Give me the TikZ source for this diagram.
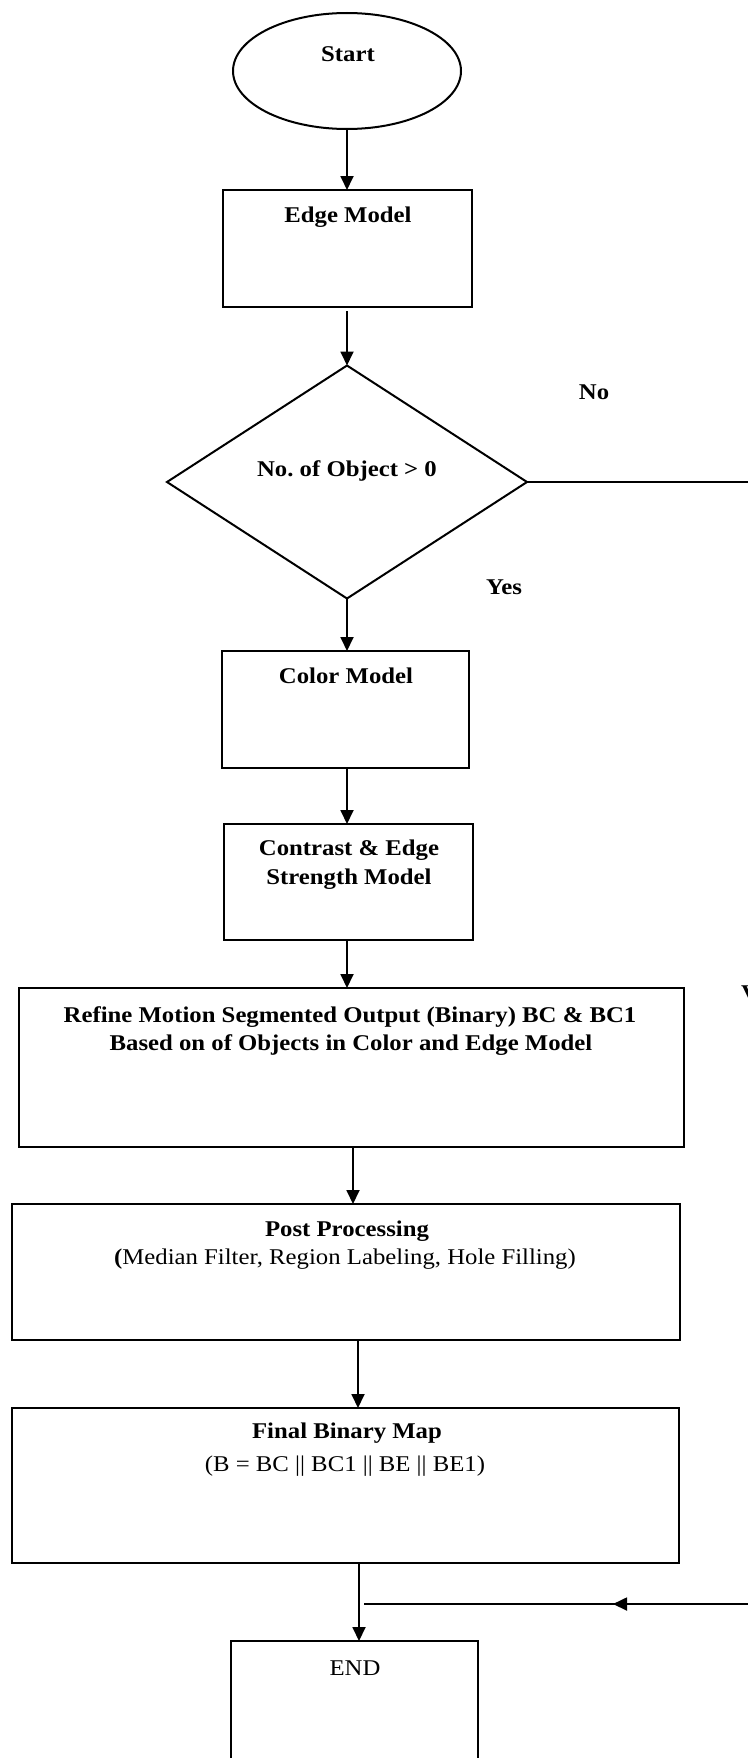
\documentclass[tikz,border=0pt]{standalone}
\usepackage{fontspec}
\setmainfont{Liberation Serif}[FakeStretch=1.1]
\usetikzlibrary{arrows.meta,shapes.geometric,decorations.markings}
\frenchspacing

\tikzset{
  shapeline/.style={draw=black, line width=2pt, inner sep=0pt, outer sep=0pt},
  procbox/.style={shapeline, rectangle},
  txt/.style={inner sep=0pt, anchor=base, font=\fontsize{22.5}{28}\selectfont},
  btxt/.style={txt, font=\fontsize{22.5}{28}\selectfont\bfseries},
  flow/.style={line width=1.8pt, -{Triangle[length=14pt,width=13pt]}},
  plain/.style={line width=1.8pt},
}

\begin{document}
\begin{tikzpicture}[x=1pt, y=-1pt]
  \useasboundingbox (0,0) rectangle (747,1758);

  % terminal and process shapes
  \node[shapeline, ellipse, minimum width=228pt, minimum height=116pt] (start) at (347,71) {};
  \node[procbox, minimum width=249pt, minimum height=117pt] (edge) at (347,248.5) {};
  \node[shapeline, diamond, minimum width=360pt, minimum height=233pt, aspect=1.545] (dec) at (347,482) {};
  \node[procbox, minimum width=247pt, minimum height=117pt] (color) at (345.5,709.5) {};
  \node[procbox, minimum width=249pt, minimum height=116pt] (contrast) at (348.5,882) {};
  \node[procbox, minimum width=665pt, minimum height=159pt] (refine) at (351.5,1067.5) {};
  \node[procbox, minimum width=668pt, minimum height=136pt] (post) at (346,1272) {};
  \node[procbox, minimum width=667pt, minimum height=155pt] (final) at (345.5,1485.5) {};
  \node[procbox, minimum width=247pt, minimum height=118pt] (end) at (354.5,1700) {};

  % labels
  \node[btxt] (startt) at (348,62) {Start};
  \node[btxt] (edget) at (348,222) {Edge Model};
  \node[btxt] (dect) at (347,476) {No.\ of Object > 0};
  \node[btxt] (no) at (594,399) {No};
  \node[btxt] (yes) at (504,594) {Yes};
  \node[btxt] (colort) at (346,683) {Color Model};
  \node[btxt] (contrastt1) at (349,855) {Contrast \& Edge};
  \node[btxt] (contrastt2) at (349,884) {Strength Model};
  \node[btxt] (refinet1) at (350,1022) {Refine Motion Segmented Output (Binary) BC \& BC1};
  \node[btxt] (refinet2) at (351,1050) {Based on of Objects in Color and Edge Model};
  \node[btxt] (postt1) at (347,1236) {Post Processing};
  \node[txt] (postt2) at (345,1264) {\textbf{(}Median Filter, Region Labeling, Hole Filling)};
  \node[btxt] (finalt1) at (347,1438) {Final Binary Map};
  \node[txt] (finalt2) at (345,1471) {(B = BC || BC1 || BE || BE1)};
  \node[txt] (endt) at (355,1675) {END};
  \node[btxt, anchor=base west] (edgemark) at (741,1000) {V};

  % free ends of the loop-back branch at the right margin
  \coordinate (noout) at (752,482);
  \coordinate (backin) at (752,1604);
  \coordinate (backend) at (364,1604);

  % main flow
  \draw[flow] (start.south) -- (edge.north);
  \draw[flow, shorten <=4pt] (edge.south) -- (dec.north);
  \draw[flow] (dec.south) -- ([xshift=1.5pt]color.north);
  \draw[flow] ([xshift=1.5pt]color.south) -- ([xshift=-1.5pt]contrast.north);
  \draw[flow] ([xshift=-1.5pt]contrast.south) -- ([xshift=-4.5pt]refine.north);
  \draw[flow] ([xshift=1.5pt]refine.south) -- ([xshift=7pt]post.north);
  \draw[flow] ([xshift=12pt]post.south) -- ([xshift=12.5pt]final.north);
  \draw[flow] ([xshift=13.5pt]final.south) -- ([xshift=4.5pt]end.north);

  % "No" branch leaving the decision and returning above END
  \draw[plain] (dec.east) -- (noout);
  \draw[plain, postaction={decorate}, decoration={markings,
      mark=at position 139pt with {\arrow{Triangle[length=14pt,width=13pt]}}}]
      (backin) -- (backend);
\end{tikzpicture}
\end{document}
